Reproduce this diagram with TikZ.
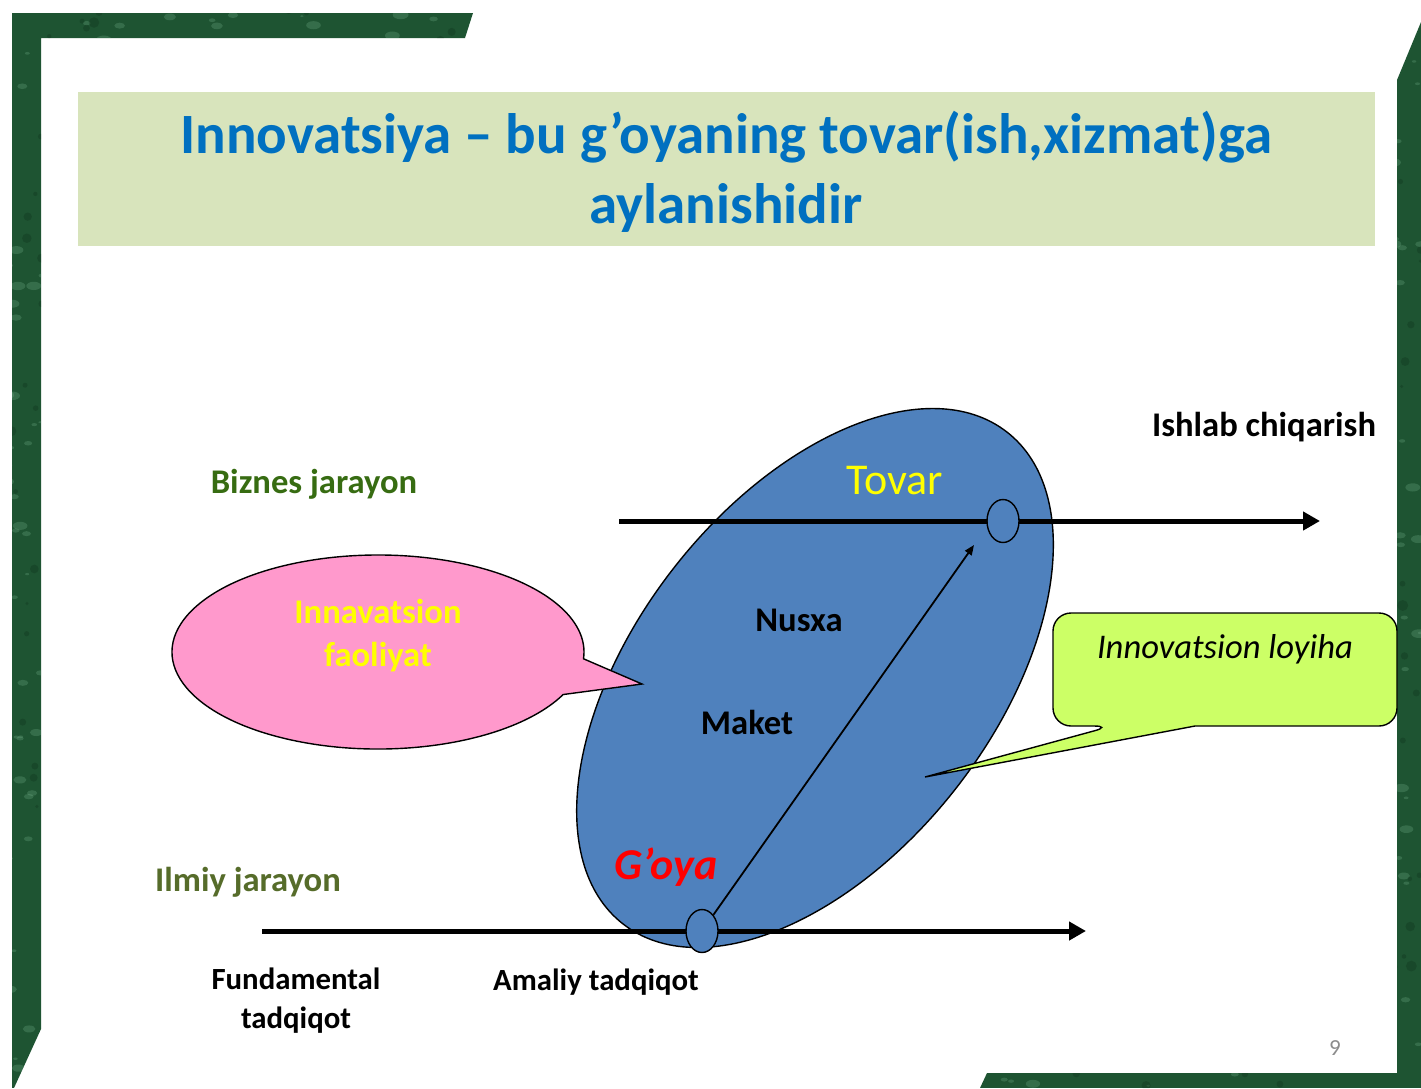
\documentclass[tikz,border=0pt]{standalone}
\usepackage{fontspec}
\setmainfont{Carlito}
\usetikzlibrary{arrows.meta,shapes.geometric}
\definecolor{titleblue}{HTML}{0070C0}
\definecolor{titlebg}{HTML}{D8E4BC}
\definecolor{ellblue}{HTML}{4F81BD}
\definecolor{pinkfill}{HTML}{FF99CC}
\definecolor{limefill}{HTML}{CCFF66}
\definecolor{bizgreen}{HTML}{376C12}
\definecolor{ilmgreen}{HTML}{566C2A}
\definecolor{marble}{HTML}{1E5432}
\definecolor{marblelight}{HTML}{7DB892}
\definecolor{marbledark}{HTML}{0C2E18}
\definecolor{txtyellow}{HTML}{FFFF00}
\definecolor{pagegrey}{HTML}{8C8C8C}
\begin{document}
\begin{tikzpicture}[x=1pt,y=-1pt,
  lbl/.style={inner sep=0pt,font=\fontsize{34.6}{40}\selectfont\bfseries},
  smalllbl/.style={inner sep=0pt,align=center,font=\fontsize{30.8}{39}\selectfont\bfseries},
  thickarrow/.style={line width=5pt,-{Triangle[length=17pt,width=18pt]}},
  knot/.style={ellipse,draw=black,line width=1.4pt,fill=ellblue,minimum width=32pt,minimum height=43pt,inner sep=0pt},
  outline/.style={draw=black,line width=1.4pt}]
\useasboundingbox (0,0) rectangle (1421,1088);
\fill[white] (0,0) rectangle (1421,1088);
% marble frame
\begin{scope}
  \clip (12,13) -- (473,13) -- (465,38) -- (41,38) -- (41,1029) -- (14,1088) -- (12,1088) -- cycle
        (1397,80) -- (1421,22) -- (1421,1088) -- (980,1088) -- (987,1073) -- (1397,1073) -- cycle;
  \fill[marble] (0,0) rectangle (1421,1088);
  \pgfmathsetseed{7}
  \foreach \i in {1,...,1400}{
    \pgfmathsetmacro{\px}{rnd*1421}
    \pgfmathsetmacro{\py}{rnd*1088}
    \pgfmathsetmacro{\pr}{1+rnd*3.5}
    \fill[marblelight,opacity=0.25] (\px,\py) ellipse[x radius=\pr*1.8,y radius=\pr];
  }
  \foreach \i in {1,...,900}{
    \pgfmathsetmacro{\px}{rnd*1421}
    \pgfmathsetmacro{\py}{rnd*1088}
    \pgfmathsetmacro{\pr}{1.5+rnd*4}
    \fill[marbledark,opacity=0.3] (\px,\py) circle[radius=\pr];
  }
\end{scope}
% title
\fill[titlebg] (78,92) rectangle (1375,246);
\node[align=center,text=titleblue,font=\fontsize{57}{70}\selectfont\bfseries,inner sep=0pt] (title) at (726,172)
  {Innovatsiya – bu g’oyaning tovar(ish,xizmat)ga\\aylanishidir};
% big ellipse
\draw[outline,fill=ellblue,rotate around={52:(815,678)}] (815,678) ellipse[x radius=312,y radius=179];
% process lines
\coordinate (bs) at (619,521);
\coordinate (be) at (1320,521);
\coordinate (ls) at (262,931);
\coordinate (le) at (1086,931);
\draw[thickarrow] (bs) -- (be);
\draw[thickarrow] (ls) -- (le);
\node[knot] (tc) at (1003,521) {};
\node[knot] (gc) at (702,931) {};
\coordinate (arrowend) at (974,545);
\draw[line width=1.8pt,-{Triangle[length=10pt,width=8pt]}] (gc) -- (arrowend);
% pink callout
\draw[outline,fill=pinkfill] (378,652) ++(26:206 and 97) arc[start angle=26,end angle=364,x radius=206,y radius=97] -- (642,684) -- cycle;
\node[lbl,text=txtyellow,align=center,font=\fontsize{34.6}{43}\selectfont\bfseries] (faol) at (378,636) {Innavatsion\\faoliyat};
% lime callout
\draw[outline,fill=limefill] (1195,726) [rounded corners=18pt] -- (1397,726) -- (1397,613) -- (1053,613) -- (1053,726) -- (1112,726) [sharp corners] -- (925,777) -- cycle;
\node[inner sep=0pt,font=\fontsize{34.6}{40}\selectfont\itshape] (loyiha) at (1225,649) {Innovatsion loyiha};
% labels
\node[lbl] (ishlab) at (1264,427) {Ishlab chiqarish};
\node[lbl,text=bizgreen] (biznes) at (314,484) {Biznes jarayon};
\node[inner sep=0pt,text=txtyellow,font=\fontsize{44}{50}\selectfont] (tovar) at (895,481) {Tovar};
\node[lbl] (nusxa) at (799,620) {Nusxa};
\node[lbl] (maket) at (747,722) {Maket};
\node[inner sep=0pt,text=red,font=\fontsize{44}{50}\selectfont\bfseries\itshape] (goya) at (666,867) {G’oya};
\node[lbl,text=ilmgreen] (ilmiy) at (248,882) {Ilmiy jarayon};
\node[smalllbl] (fund) at (296,1001) {Fundamental\\tadqiqot};
\node[smalllbl] (amaliy) at (596,982) {Amaliy tadqiqot};
\node[inner sep=0pt,text=pagegrey,font=\fontsize{23}{26}\selectfont] (page) at (1335,1048) {9};
\end{tikzpicture}
\end{document}
